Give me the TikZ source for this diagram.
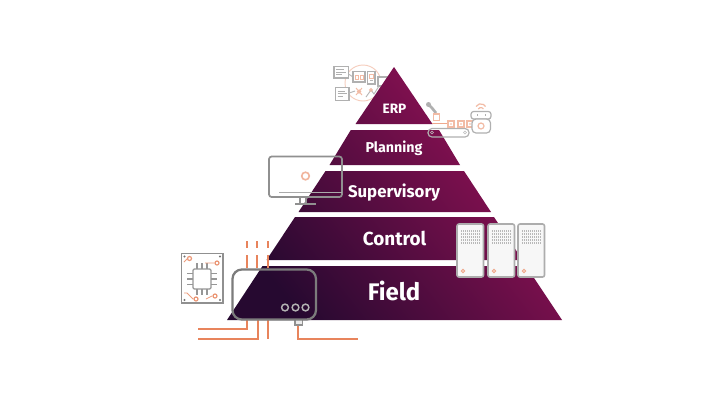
\documentclass[tikz,border=0pt]{standalone}
\usepackage{fontspec}
\setmainfont{Fira Sans}
\definecolor{pdark}{HTML}{260930}
\definecolor{pmag}{HTML}{9A1258}
\definecolor{org}{HTML}{E8845C}
\definecolor{gry}{HTML}{7C7C7C}
\tikzset{
 lbl/.style={text=white,font=\bfseries,inner sep=0pt,anchor=center},
 orgline/.style={draw=org,line width=1.5pt},
 faint/.style={draw=gry!60,line width=0.9pt,fill=white},
 faintorg/.style={draw=org!55,line width=0.7pt},
 srv/.style={draw=black!32,line width=1.2pt,fill=black!3,rounded corners=1.5pt},
 grill/.style={draw=black!28,line width=0.9pt,dash pattern=on 1pt off 0.5pt},
 hole/.style={fill=black!55,draw=none},
 chipline/.style={draw=gry!80,line width=0.9pt},
}
\begin{document}
\begin{tikzpicture}[x=0.75pt,y=-0.75pt]
\useasboundingbox (0,0) rectangle (720,405);
\fill[white] (0,0) rectangle (720,405);

% ERP icon (behind the pyramid)
\draw[faintorg,draw=org!40] (363,83) circle (18);
\draw[faint] (334,66.5) rectangle (348.5,78);
\draw[gry!60,line width=0.5pt] (336,69.5)--(344,69.5) (336,72)--(346,72) (336,74.5)--(342,74.5);
\draw[faint] (335.5,87.5) rectangle (349,100.5);
\draw[gry!60,line width=0.5pt] (337.5,91)--(345,91) (337.5,93.5)--(347,93.5) (337.5,96)--(343,96);
\draw[gry!55,line width=0.7pt] (348.5,74)--(353,77) (349,93)--(355,91);
\draw[faint] (353,71.5) rectangle (365,82);
\draw[faintorg] (355.5,75) rectangle (358.5,79) (360,75) rectangle (363,79);
\draw[faint] (367.5,71.5) rectangle (375,84);
\draw[faintorg] (369.5,74) rectangle (373,78);
\draw[gry!55,line width=0.5pt] (369.5,80)--(373,80);
\draw[faint] (378,77) rectangle (388,86);
\draw[faintorg] (356,88)--(362,95) (362,88)--(356,95);
\draw[gry!55,line width=0.7pt] (366,97)--(371,90)--(374,94)--(379,86);
\draw[faintorg] (359,91.5) circle (1.6) (371,90) circle (1.4);

% Pyramid
\shade[left color=pdark,right color=pmag,shading angle=128]
 (394,67) -- (432.5,124) -- (355.5,124) -- cycle
 (350.8,130) -- (439,130) -- (460,165) -- (329.5,165) -- cycle
 (325.5,171) -- (464,171) -- (491,212) -- (298.5,212) -- cycle
 (295,217) -- (494,217) -- (522.5,260) -- (266.5,260) -- cycle
 (262.5,266) -- (526,266) -- (562,320) -- (227,320) -- cycle;

\node[lbl,font=\bfseries\fontsize{10.2}{11}\selectfont] (erp) at (394.5,109) {ERP};
\node[lbl,font=\bfseries\fontsize{10.7}{12}\selectfont] (planning) at (394,148) {Planning};
\node[lbl,font=\bfseries\fontsize{12.6}{13}\selectfont] (supervisory) at (394,192.5) {Supervisory};
\node[lbl,font=\bfseries\fontsize{14.2}{15}\selectfont] (control) at (394.5,238) {Control};
\node[lbl,font=\bfseries\fontsize{18}{19}\selectfont] (field) at (394,291) {Field};

% Robot / conveyor icon
\draw[gry!60,line width=2pt] (428.5,104.5)--(432,108)--(436,113);
\fill[gry!60] (428.5,104.5) circle (2.5);
\draw[faintorg,fill=white,line width=0.9pt] (433.5,114) rectangle (439.5,120.5);
\draw[org!70,line width=1pt] (432,123.5)--(448,123.5);
\draw[faint,rounded corners=3pt,fill=none] (428,128.5) rectangle (469,137);
\draw[gry!50,line width=0.5pt] (432,132.5) circle (1.5) (465,132.5) circle (1.5);
\foreach \x in {448,458,467}{
 \draw[faintorg,fill=white,line width=0.9pt] (\x,121) rectangle (\x+6,127);
 \fill[org!60] (\x+3,124) circle (0.9);
}
\draw[faint,rounded corners=2pt] (471,111.5) rectangle (491,119);
\draw[faint,rounded corners=3pt] (472,119) rectangle (490.5,133);
\draw[gry!60,line width=0.8pt] (477,115)--(477.5,115) (485,115)--(485.5,115);
\draw[faintorg,line width=0.9pt] (481,126) circle (3);
\draw[faintorg,line width=0.9pt] (476,106.5) arc (210:330:5.5);
\draw[faintorg,line width=0.9pt] (478.2,109) arc (210:330:3);

% Monitor
\draw[draw=gry!85,line width=1.3pt,rounded corners=2pt] (269,156.5) rectangle (342,197);
\draw[gry!65,line width=0.8pt] (279,192.5)--(342,192.5);
\draw[org!60,line width=1.2pt] (305.5,176) circle (3.8);
\draw[gry!85,line width=1pt] (300,197.5)--(300,203.5) (306,197.5)--(306,203.5);
\draw[gry!85,line width=1.3pt] (295,204)--(316,204);

% Servers
\foreach \x in {457,488,518}{
 \draw[srv] (\x,224) rectangle (\x+26.5,277);
 \foreach \y in {231,234,237,240,243}
  \draw[grill] (\x+4,\y)--(\x+22.5,\y);
 \draw[org!70,fill=org!25,line width=0.7pt] (\x+6,271) circle (1.8);
}

% Field device wiring
\draw[orgline] (247,241)--(247,248) (257,241)--(257,248) (268,241)--(268,248);
\draw[orgline] (247,255)--(247,268) (257,255)--(257,268) (268,255)--(268,268);
\draw[orgline] (247,319)--(247,329)--(198,329);
\draw[orgline] (257.5,319)--(257.5,339)--(198,339);
\draw[orgline] (268,319)--(268,339);
\draw[orgline] (298,324)--(298,339)--(358,339);
\draw[draw=gry!85,line width=1pt,fill=white!85!gry] (295,319)--(295,325)--(302.5,325)--(302.5,319);

% Field device
\draw[draw=gry,line width=1.7pt,rounded corners=7pt] (232.5,269.5) rectangle (316,319.5);
\draw[draw=black!30,line width=1.1pt] (285,307.5) circle (3.4) (295.5,307.5) circle (3.4) (305.5,307.5) circle (3.4);

% Chip board
\draw[draw=gry!85,line width=1.3pt,fill=white] (181.5,253.5) rectangle (223,303);
\foreach \x/\y in {184.5/256.5,220/256.5,184.5/300,220/300}\fill[hole] (\x,\y) circle (1.2);
\draw[chipline,rounded corners=1pt] (193,269) rectangle (211,289);
\foreach \x in {197,202,207}{\draw[chipline] (\x,263)--(\x,269) (\x,289)--(\x,295);}
\foreach \y in {273.5,279,284.5}{\draw[chipline] (187,\y)--(193,\y) (211,\y)--(217,\y);}
\draw[org!80,line width=0.6pt] (184,262)--(187,259) (214,263)--(205,263) (193,299)--(187,293)--(184,293) (212,296)--(206,299);
\foreach \x/\y in {189.5/258.5,217/263,196/299,215/296}\draw[org!85,line width=0.9pt,fill=white] (\x,\y) circle (2);
\end{tikzpicture}
\end{document}
